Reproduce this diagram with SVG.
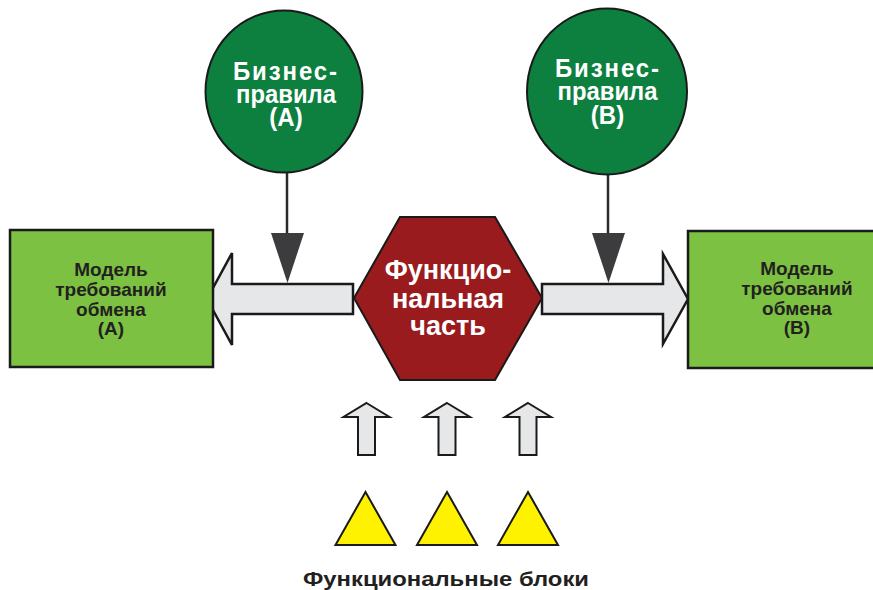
<svg xmlns="http://www.w3.org/2000/svg" width="873" height="590" viewBox="0 0 873 590">
<defs>
<style>
.circ{fill:#0d7f3f;stroke:#1a1a1a;stroke-width:2}
.rect{fill:#7cc142;stroke:#1a1a1a;stroke-width:2.5}
.hex{fill:#991b1e;stroke:#1a1a1a;stroke-width:2}
.big{fill:#e6e7e8;stroke:#1a1a1a;stroke-width:2.5;stroke-linejoin:miter}
.up{fill:#e6e7e8;stroke:#1a1a1a;stroke-width:2}
.tri{fill:#fff200;stroke:#1a1a1a;stroke-width:2;stroke-linejoin:miter}
.line{stroke:#2b2b2b;stroke-width:2.5;fill:none}
.head{fill:#3c3c3e}
.wt{font-family:"Liberation Sans",Arial,sans-serif;font-weight:bold;fill:#ffffff;text-anchor:middle}
.dt{font-family:"Liberation Sans",Arial,sans-serif;font-weight:bold;fill:#231f20;text-anchor:middle}
.ct{font-size:24px}
.rt{font-size:19px}
</style>
<path id="uparrow" d="M0,0 L23,14 L8.5,14 L8.5,52 L-8.5,52 L-8.5,14 L-23,14 Z"/>
<path id="triangle" d="M0,0 L30,53 L-30,53 Z"/>
</defs>

<g id="connectors">
<path class="big" d="M207,299 L232,253 L232,284 L353,284 L353,314 L232,314 L232,345 Z"/>
<path class="big" d="M688,299 L663,254 L663,284 L542,284 L542,314 L663,314 L663,344 Z"/>
<line class="line" x1="287" y1="172" x2="287" y2="236"/>
<path class="head" d="M271,233 L304,233 L287.5,283 Z"/>
<line class="line" x1="608" y1="174" x2="608" y2="236"/>
<path class="head" d="M592,233 L625,233 L608.5,283 Z"/>
<use href="#uparrow" class="up" x="366.5" y="403"/>
<use href="#uparrow" class="up" x="447" y="403"/>
<use href="#uparrow" class="up" x="528" y="403"/>
</g>

<g id="rules-a">
<ellipse class="circ" cx="284" cy="91.5" rx="78.5" ry="81"/>
<text class="wt ct" transform="translate(285,80) scale(1,1.08)" textLength="104" lengthAdjust="spacing">Бизнес-</text>
<text class="wt ct" transform="translate(286,103) scale(1,1.08)" textLength="100" lengthAdjust="spacingAndGlyphs">правила</text>
<text class="wt ct" transform="translate(286,126) scale(1,1.08)">(А)</text>
</g>

<g id="rules-b">
<ellipse class="circ" cx="607" cy="91.5" rx="80" ry="83"/>
<text class="wt ct" transform="translate(607,77) scale(1,1.08)" textLength="104" lengthAdjust="spacing">Бизнес-</text>
<text class="wt ct" transform="translate(607.5,100) scale(1,1.08)" textLength="100" lengthAdjust="spacingAndGlyphs">правила</text>
<text class="wt ct" transform="translate(607.5,124) scale(1,1.08)">(В)</text>
</g>

<g id="model-a">
<rect class="rect" x="10" y="230" width="203" height="137"/>
<text class="dt rt" x="111" y="276">Модель</text>
<text class="dt rt" x="111" y="296">требований</text>
<text class="dt rt" x="111" y="316">обмена</text>
<text class="dt rt" x="111" y="335">(А)</text>
</g>

<g id="model-b">
<rect class="rect" x="688" y="231" width="203" height="137"/>
<text class="dt rt" x="797" y="275">Модель</text>
<text class="dt rt" x="797" y="295">требований</text>
<text class="dt rt" x="797" y="315">обмена</text>
<text class="dt rt" x="797" y="334">(В)</text>
</g>

<g id="functional-part">
<path class="hex" d="M354,298 L400,217 L495,217 L542,298 L495,380 L400,380 Z"/>
<text class="wt" font-size="27" x="448" y="279">Функцио-</text>
<text class="wt" font-size="27" x="448" y="308">нальная</text>
<text class="wt" font-size="27" x="448" y="335">часть</text>
</g>

<g id="functional-blocks">
<use href="#triangle" class="tri" x="365.5" y="492"/>
<use href="#triangle" class="tri" x="447" y="492"/>
<use href="#triangle" class="tri" x="528" y="492"/>
<text class="dt" font-size="20" x="446" y="586" textLength="286" lengthAdjust="spacingAndGlyphs">Функциональные блоки</text>
</g>
</svg>
